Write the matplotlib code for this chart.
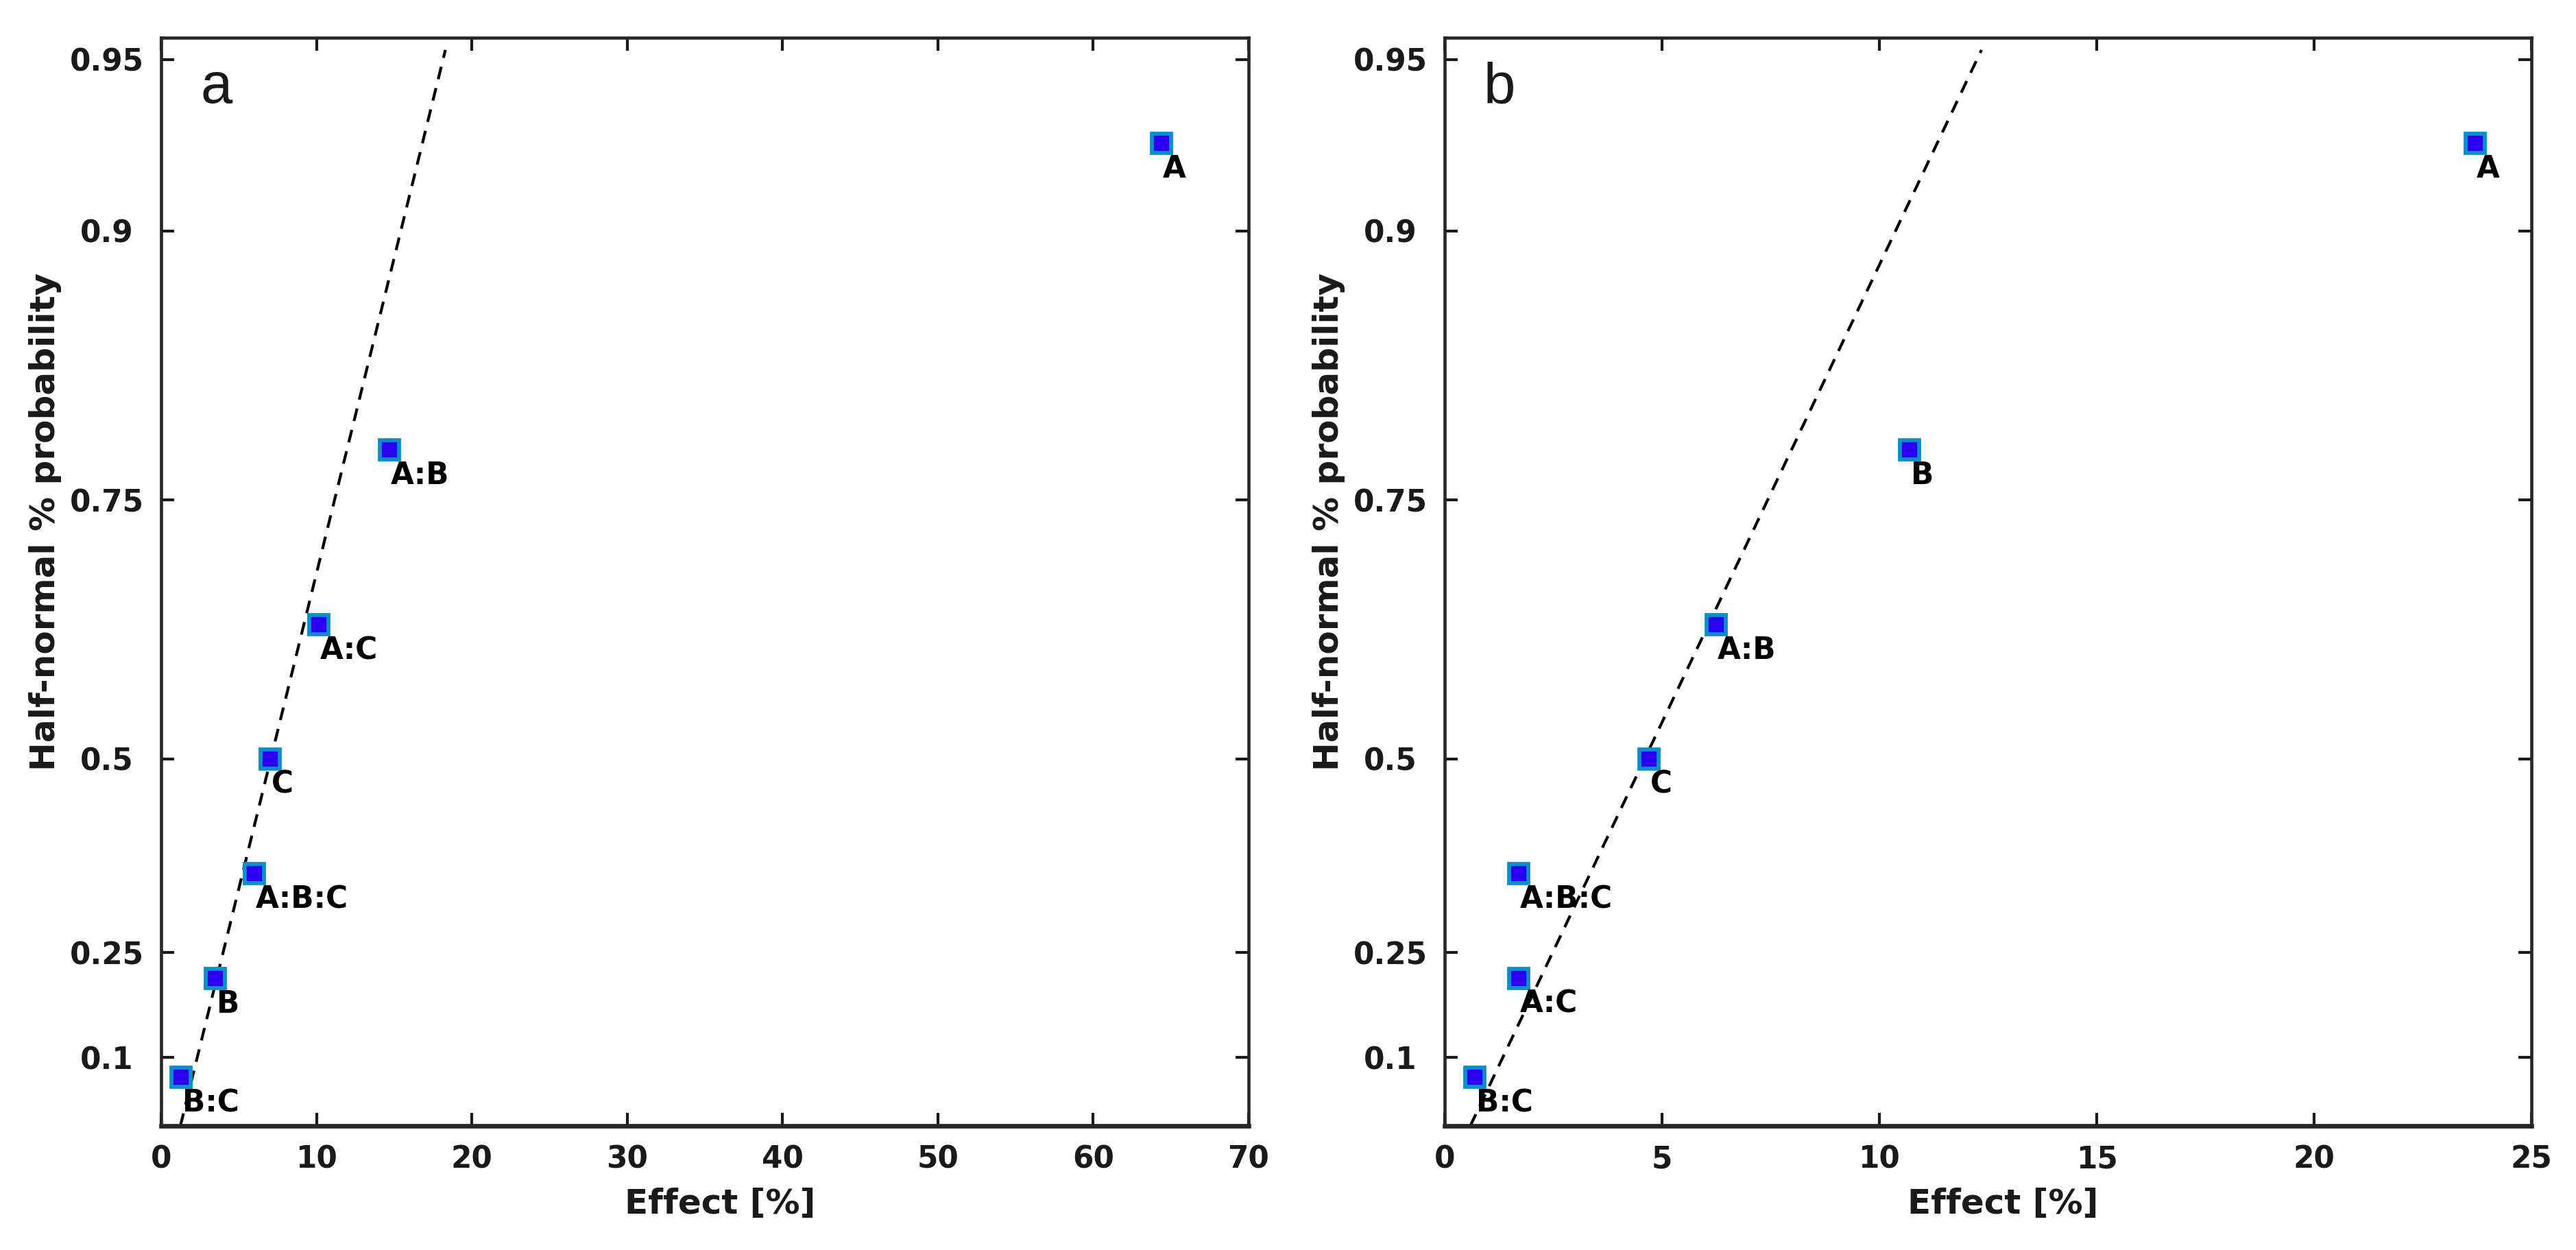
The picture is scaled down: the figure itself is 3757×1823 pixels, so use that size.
import numpy as np
import matplotlib
matplotlib.use("Agg")
import matplotlib.pyplot as plt
from statistics import NormalDist

# data
prob = [0.071, 0.214, 0.357, 0.5, 0.643, 0.786, 0.929]

labels_a = ['B:C', 'B', 'A:B:C', 'C', 'A:C', 'A:B', 'A']
effects_a = [1.27, 3.5, 6.0, 7.0, 10.15, 14.7, 64.4]

labels_b = ['B:C', 'A:C', 'A:B:C', 'C', 'A:B', 'B', 'A']
effects_b = [0.7, 1.7, 1.7, 4.7, 6.25, 10.7, 23.7]

# dashed reference lines (effect at p=0 and p=0.952)
line_p = [0.0, 0.952]
line_a = [1.24, 18.3]
line_b = [0.59, 12.35]

ytick_p = [0.1, 0.25, 0.5, 0.75, 0.9, 0.95]
ytick_lab = ['0.1', '0.25', '0.5', '0.75', '0.9', '0.95']

nd = NormalDist()


def hn(p):
    # half-normal quantile
    return np.array([nd.inv_cdf(0.5 + v / 2) for v in p])


ink = '#1a1a1a'
plt.rcParams['font.family'] = 'DejaVu Sans'

fig = plt.figure(figsize=(3757 / 300, 1823 / 300), dpi=300)
ax_a = fig.add_axes([0.06255, 0.0993, 0.4221, 0.8706])
ax_b = fig.add_axes([0.5608, 0.0993, 0.4219, 0.8706])

panels = [
    (ax_a, effects_a, labels_a, line_a, 'a', 70, 10),
    (ax_b, effects_b, labels_b, line_b, 'b', 25, 5),
]

for ax, eff, lab, ln, tag, xmax, step in panels:
    ax.plot(ln, hn(line_p), color='black', lw=1.0, ls=(0, (4.5, 3.2)), zorder=2)
    ax.plot(eff, hn(prob), ls='none', marker='s', ms=6.8, mew=1.4,
            mfc='#2a00f2', mec='#0a8fcc', zorder=3)
    for x, y, t in zip(eff, hn(prob), lab):
        ax.annotate(t, (x, y), xytext=(0.5, -3.9), textcoords='offset points',
                    ha='left', va='top', fontsize=10.5, fontweight='bold',
                    color='black', zorder=4)

    ax.set_xlim(0, xmax)
    ax.set_ylim(0, 2.0)
    ax.set_xticks(np.arange(0, xmax + 1, step))
    ax.set_yticks(hn(ytick_p))
    ax.set_yticklabels(ytick_lab)
    ax.tick_params(direction='in', top=True, right=True, length=4.5, width=1.0,
                   colors=ink, labelsize=10.5)
    ax.tick_params(axis='y', pad=19)
    ax.tick_params(axis='x', pad=6.5)
    for t in ax.get_yticklabels():
        t.set_ha('center')
        t.set_fontweight('bold')
    for t in ax.get_xticklabels():
        t.set_fontweight('bold')
    for s in ax.spines.values():
        s.set_linewidth(1.1)
        s.set_color('#262626')
    ax.spines['bottom'].set_linewidth(1.6)

    ax.set_xlabel('Effect [%]', fontsize=12, fontweight='bold', color=ink)
    ax.set_ylabel('Half-normal % probability', fontsize=12, fontweight='bold', color=ink)
    ax.xaxis.set_label_coords(0.514, -0.057)
    ax.yaxis.set_label_coords(-0.0915, 0.555)

    ax.text(0.036, 0.94, tag, transform=ax.transAxes, fontsize=20,
            family='Liberation Sans', color=ink, va='baseline', ha='left')

fig.savefig('out.png', dpi=300)
